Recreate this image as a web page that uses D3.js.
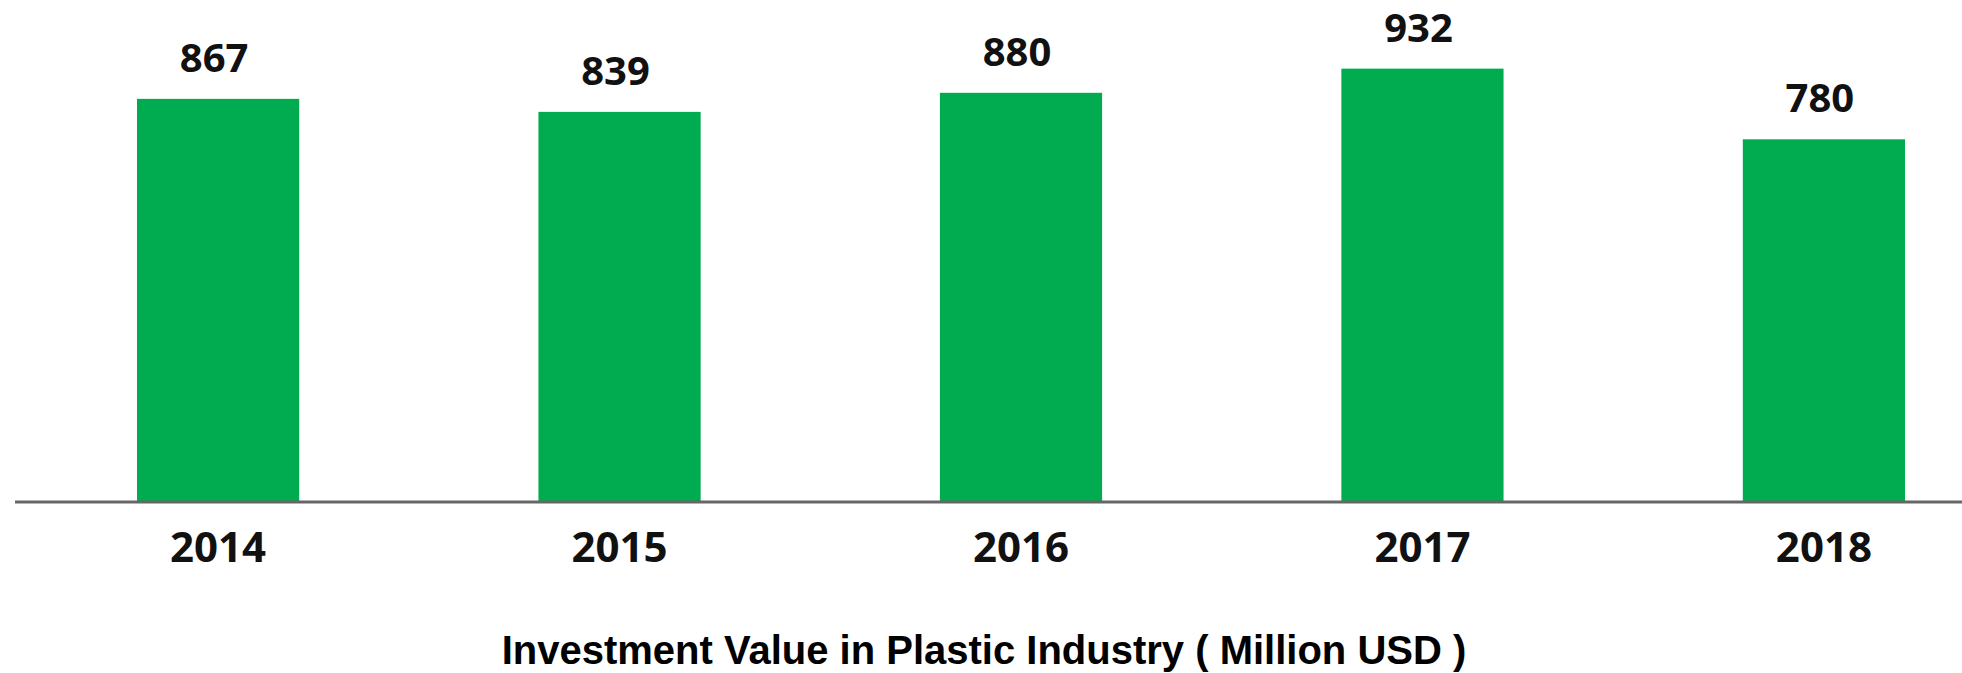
<!DOCTYPE html>
<html>
<head>
<meta charset="utf-8">
<script src="https://cdn.jsdelivr.net/npm/d3@7"></script>
<style>
  body { margin: 0; background: #fff; }
</style>
</head>
<body>
<div id="chart"></div>
<script>
const years = ["2014", "2015", "2016", "2017", "2018"];
const values = [867, 839, 880, 932, 780];
const title = "Investment Value in Plastic Industry ( Million USD )";

const width = 1962;
const height = 673;
const baseY = 502;

const data = years.map((year, i) => ({ year, value: values[i] }));

const svg = d3
  .select("#chart")
  .append("svg")
  .attr("width", width)
  .attr("height", height);

const x = d3
  .scaleBand()
  .domain(years)
  .range([137, 1905])
  .paddingInner(0.596)
  .paddingOuter(0);

const y = d3.scaleLinear().domain([0, 1000]).range([baseY, 37]);

// bars
svg
  .selectAll("rect.bar")
  .data(data)
  .enter()
  .append("rect")
  .attr("class", "bar")
  .attr("x", (d) => x(d.year))
  .attr("y", (d) => y(d.value))
  .attr("width", x.bandwidth())
  .attr("height", (d) => baseY - y(d.value))
  .attr("fill", "#00ac4f");

// value labels
svg
  .selectAll("text.val")
  .data(data)
  .enter()
  .append("text")
  .attr("class", "val")
  .attr("x", (d) => x(d.year) + x.bandwidth() / 2 - 4)
  .attr("y", (d) => y(d.value) - 27)
  .attr("text-anchor", "middle")
  .attr("font-family", "Noto Sans")
  .attr("font-weight", "bold")
  .attr("font-size", 40)
  .attr("fill", "#111")
  .text((d) => d.value);

// x axis
const axis = svg
  .append("g")
  .attr("transform", `translate(0,${baseY})`)
  .call(d3.axisBottom(x).tickSize(0).tickPadding(30));

axis.select(".domain").attr("d", "M15,0H1962").attr("stroke", "#666").attr("stroke-width", 3);

axis
  .selectAll("text")
  .attr("font-family", "Noto Sans")
  .attr("font-weight", "bold")
  .attr("font-size", 42)
  .attr("fill", "#111");

// title
svg
  .append("text")
  .attr("x", 984)
  .attr("y", 664)
  .attr("text-anchor", "middle")
  .attr("font-family", "Liberation Sans, Arial, sans-serif")
  .attr("font-weight", "bold")
  .attr("font-size", 40)
  .attr("fill", "#000")
  .text(title);
</script>
</body>
</html>
